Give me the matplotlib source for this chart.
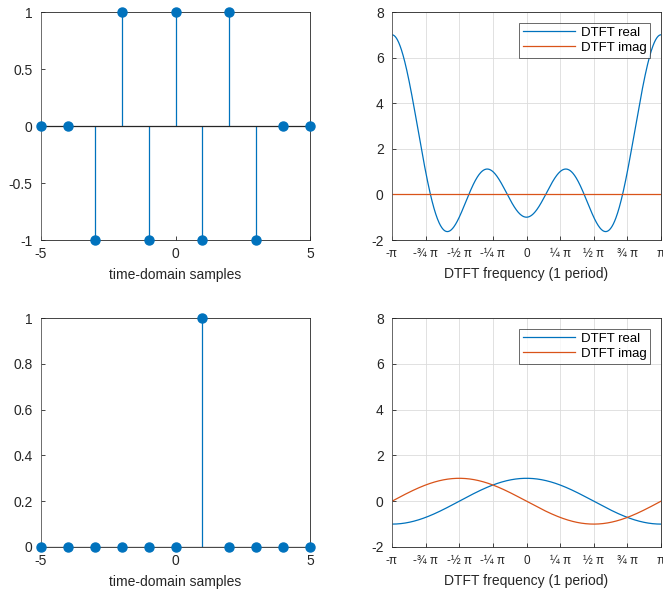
import numpy as np
import matplotlib
matplotlib.use("Agg")
import matplotlib.pyplot as plt

plt.rcParams['font.family'] = ['Liberation Sans', 'DejaVu Sans']
plt.rcParams['axes.unicode_minus'] = False

n = [-5, -4, -3, -2, -1, 0, 1, 2, 3, 4, 5]
x_top = [0, 0, -1, 1, -1, 1, -1, 1, -1, 0, 0]
x_bot = [0, 0, 0, 0, 0, 0, 1, 0, 0, 0, 0]

freq_ticks = [-np.pi, -0.75*np.pi, -0.5*np.pi, -0.25*np.pi, 0, 0.25*np.pi, 0.5*np.pi, 0.75*np.pi, np.pi]
freq_labels = ['-π', '-¾ π', '-½ π', '-¼ π', '0', '¼ π', '½ π', '¾ π', 'π']

BLUE = '#0072BD'
ORANGE = '#D95319'
TFS = 10
LFS = 10

W, H = 663, 592
fig = plt.figure(figsize=(W/100, H/100), dpi=100)

def rect(x0, y0, x1, y1):
    return [x0/W, 1 - y1/H, (x1-x0)/W, (y1-y0)/H]

def style(ax):
    for s in ax.spines.values():
        s.set_linewidth(0.6)
        s.set_color('#262626')
    ax.spines['left'].set_color('#555555')
    ax.tick_params(direction='in', length=3, width=0.6, labelsize=TFS, colors='#262626', pad=5)
    ax.tick_params(axis='y', pad=6)

def stem_panel(ax, xs, ys, yticks, ylim):
    ax.vlines(xs, 0, ys, color=BLUE, lw=0.9, zorder=2)
    ax.plot([min(xs), max(xs)], [0, 0], color='#262626', lw=0.9, zorder=2)
    ax.plot(xs, ys, 'o', color=BLUE, ms=6.5, zorder=3, clip_on=False)
    ax.set_xlim(-5, 5)
    ax.set_ylim(*ylim)
    ax.set_xticks([-5, 0, 5])
    ax.set_yticks(yticks)
    ax.set_yticklabels([('%g' % t) for t in yticks])
    ax.set_xlabel('time-domain samples', fontsize=LFS, labelpad=5, color='#262626')
    style(ax)

def dtft_panel(ax, xs, ys):
    w = np.linspace(-np.pi, np.pi, 801)
    X = np.array([np.sum(np.array(ys) * np.exp(-1j * wi * np.array(xs))) for wi in w])
    ax.grid(True, color='#dcdcdc', lw=0.6)
    ax.set_axisbelow(True)
    ax.plot(w, X.real, color=BLUE, lw=0.9, label='DTFT real')
    ax.plot(w, X.imag, color=ORANGE, lw=0.9, label='DTFT imag')
    ax.set_xlim(-np.pi, np.pi)
    ax.set_ylim(-2, 8)
    ax.set_yticks([-2, 0, 2, 4, 6, 8])
    ax.set_xticks(freq_ticks)
    ax.set_xticklabels(freq_labels)
    ax.set_xlabel('DTFT frequency (1 period)', fontsize=LFS, labelpad=5, color='#262626')
    style(ax)
    ax.tick_params(axis='x', labelsize=8.5, pad=6)
    leg = ax.legend(loc='upper right', fontsize=9.5, frameon=True, fancybox=False,
                    edgecolor='#262626', borderpad=0.3, handlelength=4.0, labelspacing=0.2,
                    borderaxespad=0.8, handletextpad=0.4)
    leg.get_frame().set_linewidth(0.6)

ax1 = fig.add_axes(rect(41, 12, 310, 240))
stem_panel(ax1, n, x_top, [-1, -0.5, 0, 0.5, 1], (-1, 1))
ax2 = fig.add_axes(rect(392, 12, 661, 240))
dtft_panel(ax2, n, x_top)
ax3 = fig.add_axes(rect(41, 318, 310, 547))
stem_panel(ax3, n, x_bot, [0, 0.2, 0.4, 0.6, 0.8, 1], (0, 1))
ax4 = fig.add_axes(rect(392, 318, 661, 547))
dtft_panel(ax4, n, x_bot)

fig.savefig('out.png', dpi=100)
